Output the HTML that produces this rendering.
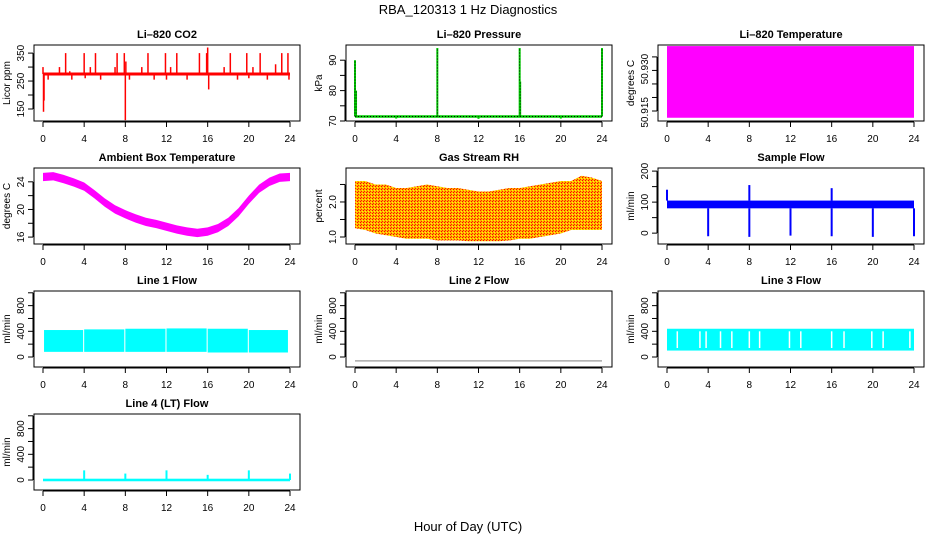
<!DOCTYPE html>
<html><head><meta charset="utf-8"><style>
html,body{margin:0;padding:0;background:#fff;}
svg{display:block;font-family:"Liberation Sans",sans-serif;}
</style></head><body>
<svg id="c" width="936" height="540" viewBox="0 0 936 540">
<defs>
<pattern id="rhpat" width="3" height="3" patternUnits="userSpaceOnUse">
<rect width="3" height="3" fill="#ffb000"/>
<rect x="0" y="0" width="1" height="1" fill="#ff0000"/>
<rect x="2" y="1" width="1" height="1" fill="#ffff00"/>
<rect x="1" y="2" width="1" height="1" fill="#ff2000"/>
</pattern>
</defs>
<text x="468" y="14" text-anchor="middle" font-size="13">RBA_120313  1 Hz Diagnostics</text>
<text x="468" y="531" text-anchor="middle" font-size="13">Hour of Day (UTC)</text>
</svg>
<script>
// ---- data ----
const xTicks = [0,4,8,12,16,20,24];
const co2Base = 275;
const co2SpikeHours = [0.0,0.05,0.1,0.5,1.6,2.2,2.6,2.8,4.0,4.1,4.6,5.1,5.6,7.0,7.2,7.9,8.0,8.05,8.4,9.6,10.2,10.8,11.9,12.0,12.4,13.0,14.0,15.2,15.9,16.0,16.1,17.6,18.2,18.9,19.8,20.0,20.4,21.1,21.8,22.6,23.2,23.8,23.9];
const co2SpikeValues = [300,140,180,255,300,350,285,255,350,260,300,350,255,300,350,350,110,320,255,300,350,255,350,255,300,350,255,350,350,370,220,300,350,255,350,260,300,350,255,310,350,350,255];
const presBase = 71.5;
const presSpikeHours = [0.0,0.1,8.0,16.0,16.05,24.0];
const presSpikeValues = [90,80,94,94,83,94];
const presDipHours = [4,12,20];
const presDipValues = [70.8,70.7,70.8];
const liTempRange = [50.9075,50.9340];
const hours = [0,1,2,3,4,5,6,7,8,9,10,11,12,13,14,15,16,17,18,19,20,21,22,23,24];
const ambTemp = [24.7,24.8,24.4,23.9,23.3,22.2,21.0,20.0,19.3,18.7,18.2,17.9,17.5,17.1,16.8,16.6,16.8,17.3,18.2,19.6,21.4,23.0,24.0,24.6,24.7];
const rhHigh = [2.6,2.6,2.5,2.5,2.4,2.4,2.45,2.5,2.45,2.4,2.4,2.35,2.3,2.3,2.35,2.4,2.4,2.45,2.5,2.55,2.6,2.6,2.75,2.7,2.6];
const rhLow = [1.25,1.2,1.1,1.05,1.0,0.95,0.95,0.95,0.9,0.9,0.9,0.88,0.88,0.88,0.88,0.9,0.95,0.95,1.0,1.05,1.1,1.2,1.2,1.2,1.2];
const sfLow = 80, sfHigh = 105;
const sfDropHours = [4,8,12,16,20,24];
const sfDropValues = [-10,-12,-8,-10,-12,-10];
const sfSpikeHours = [0,8,16];
const sfSpikeValues = [140,155,145];
const l1SegStart = [0.1,4.0,8.0,12.0,16.0,20.0];
const l1SegEnd = [3.9,7.9,11.9,15.9,19.9,23.8];
const l1Low = [80,80,80,80,70,70];
const l1High = [420,430,440,445,440,420];
const l2Value = -60;
const l3Low = 100, l3High = 440;
const l3GapHours = [1.0,3.2,3.8,5.2,6.3,8.0,9.0,11.9,13.0,16.0,17.2,19.9,21.0,23.6];
const l4Low = -20, l4High = 20;
const l4SpikeHours = [4,8,12,16,20,24];
const l4SpikeValues = [150,100,150,80,150,100];

const svg = document.getElementById('c');
const NS = 'http://www.w3.org/2000/svg';
function el(tag, attrs, parent){const e=document.createElementNS(NS,tag);for(const k in attrs)e.setAttribute(k,attrs[k]);(parent||svg).appendChild(e);return e;}

const colLeft=[34,346,658], rowTop=[45,168,291,414], W=266, H=76;
function makePanel(col,row,ymin,ymax,yTicks,yLabels,title,ylab,name){
  const L=colLeft[col], T=rowTop[row];
  const g=el('g',{});
  
  
  const x=h=>L+9+h*(247/24);
  const y=v=>T+H-(v-ymin)/(ymax-ymin)*H;
  const t=el('text',{x:L+W/2,y:T-7,'text-anchor':'middle','font-size':11,'font-weight':'bold'},g);
  t.textContent=title;
  
  
  const dg=el('g',{},g);
  const box=el('rect',{x:L,y:T,width:W,height:H,fill:'none',stroke:'#000','stroke-width':1},g);
  
  
  // x axis
  const xa=el('g',{},g);
  
  
  el('line',{x1:x(0),x2:x(24),y1:T+H+1,y2:T+H+1,stroke:'#000'},xa);
  xTicks.forEach(v=>{
    el('line',{x1:x(v),x2:x(v),y1:T+H+1,y2:T+H+6,stroke:'#000'},xa);
    const tx=el('text',{x:x(v),y:T+H+21,'text-anchor':'middle','font-size':10},xa);
    tx.textContent=v;
  });
  // y axis
  const ya=el('g',{},g);
  
  
  el('line',{x1:L-1,x2:L-1,y1:y(yTicks[0]),y2:y(yTicks[yTicks.length-1]),stroke:'#000'},ya);
  yTicks.forEach(v=>{el('line',{x1:L-6,x2:L-1,y1:y(v),y2:y(v),stroke:'#000'},ya);});
  yLabels.forEach(v=>{
    const ty=el('text',{x:0,y:0,'text-anchor':'middle','font-size':10,transform:`translate(${L-10},${y(v[0])}) rotate(-90)`},ya);
    ty.textContent=v[1];
  });
  const yt=el('text',{x:0,y:0,'text-anchor':'middle','font-size':10,transform:`translate(${L-24},${T+H/2}) rotate(-90)`},g);
  yt.textContent=ylab;
  
  
  return {x,y,g:dg};
}
function vline(p,h,v1,v2,color,w,nm){const l=el('line',{x1:p.x(h),x2:p.x(h),y1:p.y(v1),y2:p.y(v2),stroke:color,'stroke-width':w||1.5},p.g);
  
  return l;}

// CO2
let p=makePanel(0,0,107,379,[150,200,250,300,350],[[150,'150'],[250,'250'],[350,'350']],'Li\u2013820 CO2','Licor ppm','co2');
co2SpikeHours.forEach((h,i)=>vline(p,h,co2Base,co2SpikeValues[i],'#ff0000',1.5,'co2-spike'));
let b=el('line',{x1:p.x(0),x2:p.x(24),y1:p.y(co2Base),y2:p.y(co2Base),stroke:'#ff0000','stroke-width':3},p.g);



// Pressure
p=makePanel(1,0,70,95,[70,75,80,85,90],[[70,'70'],[80,'80'],[90,'90']],'Li\u2013820 Pressure','kPa','pressure');
b=el('line',{x1:p.x(0),x2:p.x(24),y1:p.y(presBase),y2:p.y(presBase),stroke:'#00cc00','stroke-width':2.5},p.g);


el('line',{x1:p.x(0),x2:p.x(24),y1:p.y(presBase),y2:p.y(presBase),stroke:'#000','stroke-width':1,'stroke-dasharray':'1 2'},p.g);
presSpikeHours.forEach((h,i)=>{vline(p,h,presBase,presSpikeValues[i],'#00cc00',2,'pressure-spike');
  el('line',{x1:p.x(h),x2:p.x(h),y1:p.y(presBase),y2:p.y(presSpikeValues[i]),stroke:'#000','stroke-width':1,'stroke-dasharray':'1 2'},p.g);});
presDipHours.forEach((h,i)=>vline(p,h,presBase,presDipValues[i],'#00cc00',2,'pressure-dip'));

// Li-820 temperature
p=makePanel(2,0,50.9063,50.9344,[50.910,50.915,50.920,50.925,50.930],[[50.9095,'50.915'],[50.9255,'50.930']],'Li\u2013820 Temperature','degrees C','li820-temp');
b=el('rect',{x:p.x(0),y:p.y(liTempRange[1]),width:p.x(24)-p.x(0),height:p.y(liTempRange[0])-p.y(liTempRange[1]),fill:'#ff00ff'},p.g);



function band(p,hs,lo,hi,fill,nm){
  let d='M'+hs.map((h,i)=>p.x(h)+','+p.y(hi[i])).join('L')+'L'+hs.slice().reverse().map((h,i)=>p.x(h)+','+p.y(lo[hs.length-1-i])).join('L')+'Z';
  const e=el('path',{d,fill},p.g);
  
  
}
// Ambient
p=makePanel(0,1,15,26,[16,18,20,22,24],[[16,'16'],[20,'20'],[24,'24']],'Ambient Box Temperature','degrees C','ambient-temp');
band(p,hours,ambTemp.map(v=>v-0.6),ambTemp.map(v=>v+0.6),'#ff00ff','ambient-temp-band');

// RH
p=makePanel(1,1,0.8,2.97,[1.0,1.5,2.0,2.5],[[1.0,'1.0'],[2.0,'2.0']],'Gas Stream RH','percent','rh');
band(p,hours,rhLow,rhHigh,'url(#rhpat)','rh-band');

// Sample flow
p=makePanel(2,1,-35,210,[0,50,100,150,200],[[0,'0'],[100,'100'],[200,'200']],'Sample Flow','ml/min','sample-flow');
b=el('rect',{x:p.x(0),y:p.y(sfHigh),width:p.x(24)-p.x(0),height:p.y(sfLow)-p.y(sfHigh),fill:'#0000ff'},p.g);


sfDropHours.forEach((h,i)=>vline(p,h,sfLow,sfDropValues[i],'#0000ff',2,'sample-flow-drop'));
sfSpikeHours.forEach((h,i)=>vline(p,h,sfHigh,sfSpikeValues[i],'#0000ff',2,'sample-flow-spike'));

const flowTicks=[0,200,400,600,800,1000], flowLabels=[[0,'0'],[400,'400'],[800,'800']];
// Line 1
p=makePanel(0,2,-156,1028,flowTicks,flowLabels,'Line 1 Flow','ml/min','line1-flow');
l1SegStart.forEach((s,i)=>{const r=el('rect',{x:p.x(s),y:p.y(l1High[i]),width:p.x(l1SegEnd[i])-p.x(s),height:p.y(l1Low[i])-p.y(l1High[i]),fill:'#00ffff'},p.g);
  
  });
// Line 2
p=makePanel(1,2,-156,1028,flowTicks,flowLabels,'Line 2 Flow','ml/min','line2-flow');
b=el('line',{x1:p.x(0),x2:p.x(24),y1:p.y(l2Value),y2:p.y(l2Value),stroke:'#aaaaaa','stroke-width':1.5},p.g);


// Line 3
p=makePanel(2,2,-156,1028,flowTicks,flowLabels,'Line 3 Flow','ml/min','line3-flow');
b=el('rect',{x:p.x(0),y:p.y(l3High),width:p.x(24)-p.x(0),height:p.y(l3Low)-p.y(l3High),fill:'#00ffff'},p.g);


l3GapHours.forEach(h=>vline(p,h,l3Low+40,l3High-40,'#ffffff',1.5,'line3-flow-gap'));
// Line 4
p=makePanel(0,3,-156,1028,flowTicks,flowLabels,'Line 4 (LT) Flow','ml/min','line4-flow');
b=el('rect',{x:p.x(0),y:p.y(l4High),width:p.x(24)-p.x(0),height:p.y(l4Low)-p.y(l4High),fill:'#00ffff'},p.g);


l4SpikeHours.forEach((h,i)=>vline(p,h,0,l4SpikeValues[i],'#00ffff',2,'line4-flow-spike'));
</script>
</body></html>
